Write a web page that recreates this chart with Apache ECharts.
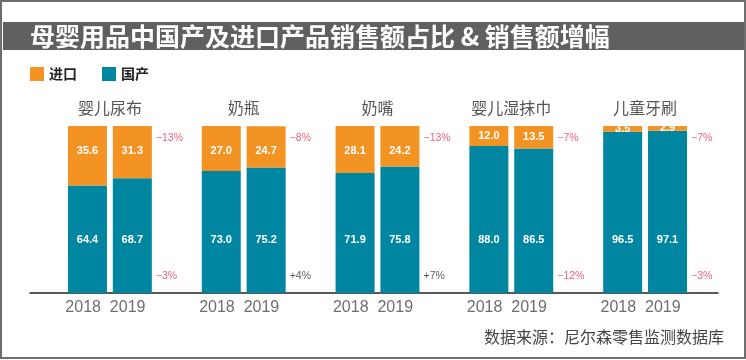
<!DOCTYPE html>
<html>
<head>
<meta charset="utf-8">
<script src="https://cdn.jsdelivr.net/npm/echarts@6/dist/echarts.min.js"></script>
<style>html,body{margin:0;padding:0;background:#fff}#c{width:746px;height:360px}</style>
</head>
<body>
<div id="c"></div>
<script>
const titleText = '母婴用品中国产及进口产品销售额占比 & 销售额增幅';
const sourceText = '数据来源：尼尔森零售监测数据库';
const categories = ['婴儿尿布', '奶瓶', '奶嘴', '婴儿湿抹巾', '儿童牙刷'];
const years = ['2018', '2019'];
const import2018 = [35.6, 27.0, 28.1, 12.0, 3.5];
const import2019 = [31.3, 24.7, 24.2, 13.5, 2.9];
const domestic2018 = [64.4, 73.0, 71.9, 88.0, 96.5];
const domestic2019 = [68.7, 75.2, 75.8, 86.5, 97.1];
const importGrowth = [-13, -8, -13, -7, -7];
const domesticGrowth = [-3, 4, 7, -12, -3];

const ORANGE = '#f39323';
const TEAL = '#0086a1';
const FONT = "'Liberation Sans', 'Noto Sans CJK SC', sans-serif";
const CJK = "'Noto Sans CJK SC', 'Liberation Sans', sans-serif";

const chart = echarts.init(document.getElementById('c'), null, {renderer: 'canvas'});

const valLabel = {
  show: true, color: '#fff', fontSize: 11, fontWeight: 'bold', fontFamily: FONT,
  formatter: p => Number(p.value).toFixed(1)
};
function importData(arr) {
  return arr.map(v => ({value: v, label: {position: v < 20 ? 'inside' : 'insideTop', distance: 19}}));
}
function growthText(g) {
  return (g > 0 ? '+' : '\u2212') + Math.abs(g) + '%';
}
function growthSeries(arr, yPos) {
  return {
    type: 'scatter', xAxisIndex: 0, yAxisIndex: 0, symbolSize: 0, silent: true,
    data: arr.map((g, i) => ({
      value: [i, yPos], g: g,
      label: {color: g < 0 ? '#e5375c' : '#333'}
    })),
    label: {
      show: true, position: 'right', distance: 46, fontSize: 10.5, fontFamily: FONT,
      formatter: p => growthText(p.data.g)
    },
    z: 5
  };
}

const option = {
  animation: false,
  textStyle: {fontFamily: FONT},
  graphic: [
    {type: 'rect', shape: {x: 1, y: 1, width: 744, height: 357}, style: {fill: 'none', stroke: '#6e6e6e', lineWidth: 2}, z: 100},
    {type: 'rect', shape: {x: 3, y: 22, width: 743, height: 28}, style: {fill: '#606060'}, z: 1}
  ],
  title: [
    {text: titleText, left: 30, top: 21, padding: 0,
     textStyle: {color: '#fff', fontSize: 25, fontWeight: 'bold', fontFamily: CJK, lineHeight: 30}},
    {text: sourceText, right: 22, top: 329, padding: 0,
     textStyle: {color: '#444', fontSize: 16, fontWeight: 'normal', fontFamily: CJK}}
  ],
  legend: {
    data: ['进口', '国产'], left: 30, top: 67, itemWidth: 14, itemHeight: 14, itemGap: 25, icon: 'rect',
    padding: 0, textStyle: {fontSize: 14, color: '#222', fontWeight: 'bold', fontFamily: CJK}
  },
  grid: [
    {left: 43, right: 34, top: 126, bottom: 67},
    {left: 30, right: 28, top: 126, bottom: 67}
  ],
  xAxis: [
    {type: 'category', gridIndex: 0, data: categories, position: 'bottom',
     axisLine: {show: false}, axisTick: {show: false},
     axisLabel: {formatter: () => years.join('  '), fontSize: 16, color: '#6e6e6e', margin: 7, padding: [0, 9, 0, 0], fontFamily: FONT}},
    {type: 'category', gridIndex: 0, data: categories, position: 'top',
     axisLine: {show: false}, axisTick: {show: false},
     axisLabel: {fontSize: 16, color: '#555', margin: 10, fontFamily: CJK}},
    {type: 'category', gridIndex: 1, data: [''], position: 'bottom',
     axisLine: {show: true, lineStyle: {color: '#222', width: 1.5}}, axisTick: {show: false}, axisLabel: {show: false}}
  ],
  yAxis: [
    {type: 'value', gridIndex: 0, min: 0, max: 100, show: false},
    {type: 'value', gridIndex: 1, min: 0, max: 100, show: false}
  ],
  series: [
    {name: '国产', type: 'bar', stack: 'y2018', xAxisIndex: 0, yAxisIndex: 0, data: domestic2018,
     barWidth: 39, barGap: '15%', itemStyle: {color: TEAL},
     label: Object.assign({}, valLabel, {position: 'insideBottom', distance: 48})},
    {name: '进口', type: 'bar', stack: 'y2018', xAxisIndex: 0, yAxisIndex: 0, data: importData(import2018),
     barWidth: 39, barGap: '15%', itemStyle: {color: ORANGE}, label: valLabel},
    {name: '国产', type: 'bar', stack: 'y2019', xAxisIndex: 0, yAxisIndex: 0, data: domestic2019,
     barWidth: 39, barGap: '15%', itemStyle: {color: TEAL},
     label: Object.assign({}, valLabel, {position: 'insideBottom', distance: 48})},
    {name: '进口', type: 'bar', stack: 'y2019', xAxisIndex: 0, yAxisIndex: 0, data: importData(import2019),
     barWidth: 39, barGap: '15%', itemStyle: {color: ORANGE}, label: valLabel},
    growthSeries(importGrowth, 92.8),
    growthSeries(domesticGrowth, 10.2)
  ]
};
chart.setOption(option);
</script>
</body>
</html>
